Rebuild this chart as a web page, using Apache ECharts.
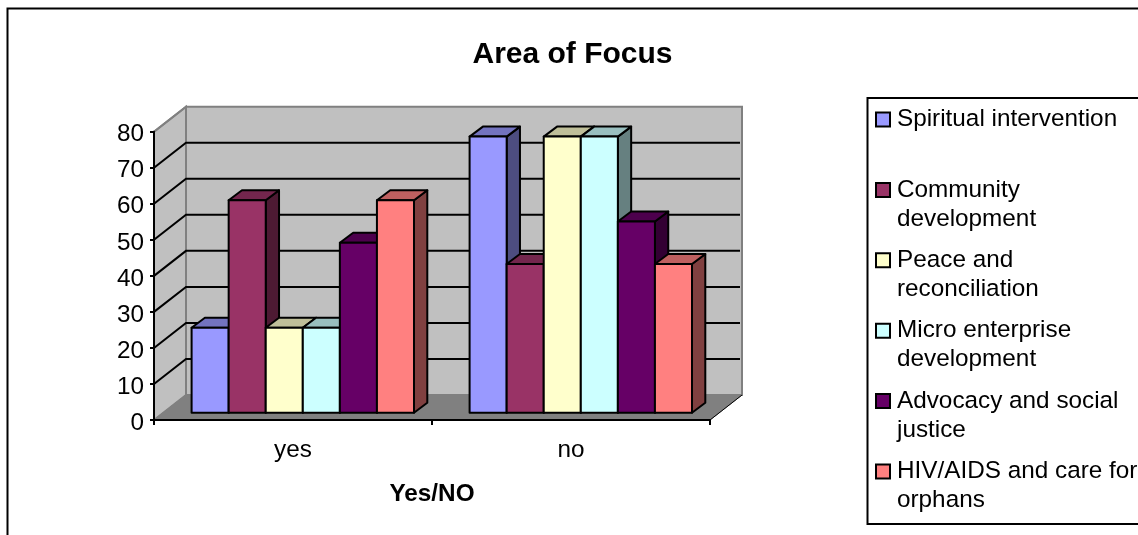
<!DOCTYPE html>
<html>
<head>
<meta charset="utf-8">
<style>html,body{margin:0;padding:0;background:#fff;overflow:hidden}#c{width:1138px;height:535px}</style>
<script src="https://cdn.jsdelivr.net/npm/echarts@6/dist/echarts.min.js"></script>
</head>
<body>
<div id="c"></div>
<script>
const categories = ['yes', 'no'];
const seriesNames = ['Spiritual intervention', 'Community development', 'Peace and reconciliation', 'Micro enterprise development', 'Advocacy and social justice', 'HIV/AIDS and care for orphans'];
const legendLabels = ['Spiritual intervention', 'Community\ndevelopment', 'Peace and\nreconciliation', 'Micro enterprise\ndevelopment', 'Advocacy and social\njustice', 'HIV/AIDS and care for\norphans'];
const spiritual = [24, 78];
const community = [60, 42];
const peace = [24, 78];
const micro = [24, 78];
const advocacy = [48, 54];
const hiv = [60, 42];
const seriesValues = [spiritual, community, peace, micro, advocacy, hiv];
const colors = ['#9999FF', '#993366', '#FFFFCC', '#CCFFFF', '#660066', '#FF8080'];
const yTicks = [0, 10, 20, 30, 40, 50, 60, 70, 80];

const FONT = '"Liberation Sans", Arial, sans-serif';
const WALL_DX = 32, WALL_DY = -25;   // depth of the pseudo-3D box
const BAR_DX = 13.3, BAR_DY = -10;   // depth of each bar
const GROUP_RATIO = 0.8;

function shade(hex, k) {
  const n = parseInt(hex.slice(1), 16);
  const c = [n >> 16 & 255, n >> 8 & 255, n & 255].map(v => Math.round(v * k));
  return 'rgb(' + c.join(',') + ')';
}

function renderWalls(params, api) {
  const cs = params.coordSys;
  const x0 = cs.x, x1 = cs.x + cs.width, yb = cs.y + cs.height, yt = cs.y;
  const border = { stroke: '#808080', lineWidth: 2 };
  return {
    type: 'group',
    children: [
      { type: 'polygon', shape: { points: [[x0 + WALL_DX, yt + WALL_DY], [x1 + WALL_DX, yt + WALL_DY], [x1 + WALL_DX, yb + WALL_DY], [x0 + WALL_DX, yb + WALL_DY]] }, style: Object.assign({ fill: '#C0C0C0' }, border) },
      { type: 'polygon', shape: { points: [[x0, yb], [x0, yt], [x0 + WALL_DX, yt + WALL_DY], [x0 + WALL_DX, yb + WALL_DY]] }, style: Object.assign({ fill: '#C0C0C0' }, border) },
      { type: 'polygon', shape: { points: [[x0, yb], [x0 + WALL_DX, yb + WALL_DY], [x1 + WALL_DX, yb + WALL_DY], [x1, yb]] }, style: { fill: '#808080', stroke: '#808080', lineWidth: 1 } },
      { type: 'line', shape: { x1: x1, y1: yb, x2: x1 + WALL_DX, y2: yb + WALL_DY }, style: { stroke: '#000', lineWidth: 1 } }
    ]
  };
}

function renderGrid(params, api) {
  const cs = params.coordSys;
  const v = api.value(1);
  const y = api.coord([0, v])[1];
  const x0 = cs.x, x1 = cs.x + cs.width;
  if (v === 0) {
    return { type: 'line', shape: { x1: x0, y1: y, x2: x0 + WALL_DX, y2: y + WALL_DY }, style: { stroke: '#808080', lineWidth: 1 } };
  }
  const top = v === yTicks[yTicks.length - 1];
  return {
    type: 'polyline',
    shape: { points: top ? [[x0, y], [x0 + WALL_DX, y + WALL_DY]] : [[x0, y], [x0 + WALL_DX, y + WALL_DY], [x1 + WALL_DX - 2, y + WALL_DY]] },
    style: { fill: null, stroke: top ? '#808080' : '#000', lineWidth: 2 }
  };
}

function makeBarRender(seriesIndex) {
  return function (params, api) {
    const cat = api.value(0), val = api.value(1);
    const top = api.coord([cat, val]);
    const base = api.coord([cat, 0]);
    const band = api.size([1, 0])[0];
    const w = band * GROUP_RATIO / seriesNames.length;
    const x = top[0] - band * GROUP_RATIO / 2 + seriesIndex * w;
    const c = colors[seriesIndex];
    const line = { stroke: '#000', lineWidth: 2, lineJoin: 'round' };
    return {
      type: 'group',
      children: [
        { type: 'polygon', shape: { points: [[x + w, top[1]], [x + w + BAR_DX, top[1] + BAR_DY], [x + w + BAR_DX, base[1] + BAR_DY], [x + w, base[1]]] }, style: Object.assign({ fill: shade(c, 0.5) }, line) },
        { type: 'polygon', shape: { points: [[x, top[1]], [x + BAR_DX, top[1] + BAR_DY], [x + w + BAR_DX, top[1] + BAR_DY], [x + w, top[1]]] }, style: Object.assign({ fill: shade(c, 0.75) }, line) },
        { type: 'rect', shape: { x: x, y: top[1], width: w, height: base[1] - top[1] }, style: Object.assign({ fill: c }, line) }
      ]
    };
  };
}

const barSeries = seriesNames.map((name, i) => ({
  name: name,
  type: 'custom',
  xAxisIndex: 1,
  yAxisIndex: 1,
  z: 3,
  silent: true,
  itemStyle: { color: colors[i] },
  encode: { x: 0, y: 1 },
  data: seriesValues[i].map((v, k) => [k, v]),
  renderItem: makeBarRender(i)
}));

const chart = echarts.init(document.getElementById('c'), null, { renderer: 'canvas' });
chart.setOption({
  animation: false,
  backgroundColor: '#fff',
  title: {
    text: 'Area of Focus',
    left: 567.5, top: 35, textAlign: 'center',
    textStyle: { fontFamily: FONT, fontWeight: 'bold', fontSize: 30, color: '#000' }
  },
  legend: {
    orient: 'vertical',
    left: 875, top: 75, padding: 0,
    itemGap: -18.6, itemWidth: 14, itemHeight: 14,
    icon: 'rect',
    selectedMode: false,
    data: seriesNames,
    itemStyle: { borderColor: '#000', borderWidth: 2 },
    formatter: function (name) {
      const s = legendLabels[seriesNames.indexOf(name)];
      return '\n' + s + (s.indexOf('\n') < 0 ? '\n' : '');
    },
    textStyle: { fontFamily: FONT, fontSize: 24.3, lineHeight: 29, color: '#000', padding: [2, 0, 0, 2] }
  },
  graphic: [
    { type: 'rect', z: 0, shape: { x: 7.5, y: 8.5, width: 1300, height: 700 }, style: { fill: null, stroke: '#000', lineWidth: 2 }, silent: true },
    { type: 'rect', z: 0, shape: { x: 867.5, y: 98, width: 400, height: 426 }, style: { fill: null, stroke: '#000', lineWidth: 2 }, silent: true }
  ],
  grid: [
    { left: 154, top: 131.7, width: 556, height: 288.3 },
    { left: 163.8, top: 129.5, width: 556, height: 283.2 }
  ],
  xAxis: [
    {
      type: 'category', gridIndex: 0, data: categories, z: 4,
      name: 'Yes/NO', nameLocation: 'middle', nameGap: 62,
      nameTextStyle: { fontFamily: FONT, fontWeight: 'bold', fontSize: 24.3, color: '#000' },
      axisLine: { lineStyle: { color: '#000', width: 2 } },
      axisTick: { show: true, alignWithLabel: false, length: 5, lineStyle: { color: '#000', width: 2 } },
      axisLabel: { fontFamily: FONT, fontSize: 24.3, color: '#000', margin: 18 },
      splitLine: { show: false }
    },
    { type: 'category', gridIndex: 1, data: categories, show: false }
  ],
  yAxis: [
    {
      type: 'value', gridIndex: 0, min: 0, max: 80, interval: 10, z: 4,
      axisLine: { show: true, lineStyle: { color: '#000', width: 2 } },
      axisTick: { show: true, length: 4, lineStyle: { color: '#000', width: 2 } },
      axisLabel: {
        margin: 10,
        formatter: '{n|{value}}',
        rich: { n: { fontFamily: FONT, fontSize: 24.3, color: '#000', padding: [6, 0, 0, 0] } }
      },
      splitLine: { show: false }
    },
    { type: 'value', gridIndex: 1, min: 0, max: 80, interval: 10, show: false, splitLine: { show: false } }
  ],
  series: [
    { name: 'walls', type: 'custom', xAxisIndex: 0, yAxisIndex: 0, z: 1, silent: true, data: [[0, 0]], renderItem: renderWalls },
    { name: 'gridlines', type: 'custom', xAxisIndex: 0, yAxisIndex: 0, z: 2, silent: true, data: yTicks.map(v => [0, v]), encode: { x: 0, y: 1 }, renderItem: renderGrid }
  ].concat(barSeries)
});
</script>
</body>
</html>
